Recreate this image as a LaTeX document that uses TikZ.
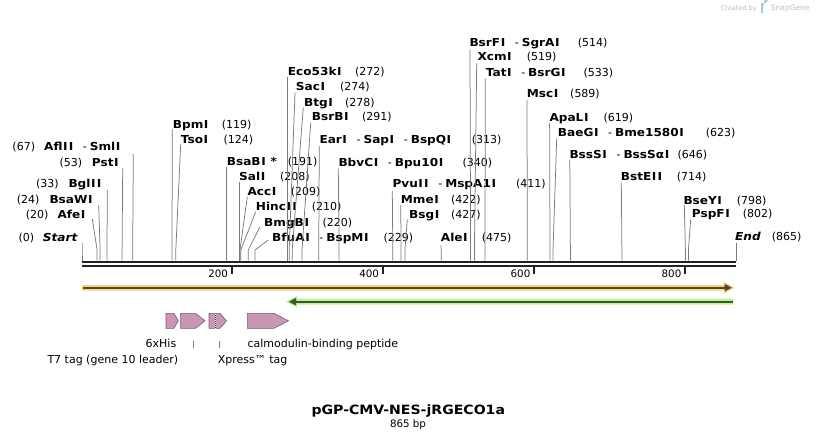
\documentclass[tikz,border=0pt]{standalone}
\usepackage{fontspec}
\setmainfont{DejaVu Sans}
\newfontfamily\widefam[FakeStretch=1.1]{DejaVu Sans}
\newcommand\enzb{\widefam\bfseries\fontsize{11}{13}\selectfont}
\newcommand\enzbi{\widefam\bfseries\itshape\fontsize{11}{13}\selectfont}
\newcommand\enzr{\normalfont\fontsize{11}{13}\selectfont}
\newcommand\dsep{\hspace{9pt}{\enzr-}\hspace{3pt}}
\newcommand\Ik{\kern0.6pt I\kern0.6pt}
\definecolor{cutgray}{HTML}{7A7A7A}
\definecolor{orglow}{HTML}{FBD07F}
\definecolor{ordark}{HTML}{4F4735}
\definecolor{grglow}{HTML}{BEF294}
\definecolor{grdark}{HTML}{3E5634}
\definecolor{featfill}{HTML}{C996B3}
\definecolor{featdraw}{HTML}{7D5A6E}
\definecolor{wmgray}{HTML}{BDBDBD}
\definecolor{wmblue}{HTML}{A9CBEA}
\definecolor{bbone}{HTML}{222222}
\tikzset{
  enz/.style={anchor=base west, inner sep=0pt, font=\enzb},
  num/.style={anchor=base west, inner sep=0pt, font=\enzr},
  cut/.style={draw=cutgray, line width=0.75pt},
  feat/.style={fill=featfill, draw=featdraw, line width=0.6pt, line join=miter},
  flabel/.style={inner sep=0pt, font=\fontsize{11}{13}\selectfont},
  ticklab/.style={anchor=base east, inner sep=0pt, font=\fontsize{10.3}{12}\selectfont},
}
\newcommand\enz[9]{%
  \node[enz] (n#1) at (#2,#4+4) {#5};
  \node[num] (m#1) at (#3,#4+4) {(#6)};
  \coordinate (t#1) at (#7,#8);
  \coordinate (s#1) at (#9,260.5);
  \draw[cut] (t#1) -- (#9,250) -- (s#1);
}
\begin{document}
\begin{tikzpicture}[x=1pt,y=-1pt]
\useasboundingbox (0,0) rectangle (818,440);

% watermark
\node[anchor=base west, inner sep=0pt, text=wmgray, font=\fontsize{6.5}{8}\selectfont] (wm1) at (720.7,10) {Created by};
\fill[wmblue] (760.5,3) rectangle (763,13);
\fill[wmblue] (763,3) -- (765,3) arc[start angle=90, end angle=-90, radius=2.6] -- (763,8.2) -- cycle;
\node[anchor=base west, inner sep=0pt, text=wmgray, font=\fontsize{7.5}{9}\selectfont] (wm2) at (770.7,10.5) {SnapGene};

% enzymes, left side
\enz{a0}{42.7}{18.3}{237.3}{\enzbi Start}{0}{82}{242.7}{82}
\enz{a20}{57.3}{25.7}{214}{Afe\Ik}{20}{92.3}{219}{97.1}
\enz{a24}{49.3}{16.7}{199}{BsaW\Ik}{24}{98.7}{205}{100.1}
\enz{a33}{68.3}{36}{183.3}{Bgl\Ik\Ik}{33}{107.3}{190}{107}
\enz{a53}{91.7}{59.3}{162.3}{Pst\Ik}{53}{122.7}{168}{122.1}
\enz{a67}{44}{12.3}{146.7}{Afl\Ik\Ik\dsep Sml\Ik}{67}{133.3}{154}{132.7}
% enzymes, right side
\enz{b119}{172.7}{221.7}{124}{Bpm\Ik}{119}{172.3}{129}{172}
\enz{b124}{180.7}{223.3}{139.3}{Tso\Ik}{124}{180.7}{144.3}{175.8}
\enz{b191}{226.7}{287.7}{161.7}{BsaB\Ik{} *}{191}{226.6}{167}{226.4}
\enz{b208}{239}{280}{176.7}{Sal\Ik}{208}{239.3}{182.3}{239.3}
\enz{b209}{247.3}{290.7}{191.7}{Acc\Ik}{209}{247.3}{196.7}{240}
\enz{b210}{255.7}{311.7}{206.7}{Hinc\Ik\Ik}{210}{255.7}{211.7}{240.8}
\enz{b220}{264}{322.3}{222}{BmgB\Ik}{220}{260}{226.7}{248.3}
\enz{b229}{272}{383.3}{237}{BfuA\Ik\dsep BspM\Ik}{229}{268.3}{240}{255.1}
\enz{b272}{287.7}{355}{71.7}{Eco53k\Ik}{272}{287.7}{76.7}{287.7}
\enz{b274}{295.7}{340}{86.7}{Sac\Ik}{274}{295}{92.7}{289.2}
\enz{b278}{304}{345}{102.3}{Btg\Ik}{278}{303.3}{107.3}{292.2}
\enz{b291}{311.7}{362}{116.7}{BsrB\Ik}{291}{310.7}{122.7}{302}
\enz{b313}{319.3}{471.7}{139}{Ear\Ik\dsep Sap\Ik\dsep BspQ\Ik}{313}{319.3}{146}{318.7}
\enz{b340}{338.3}{462.3}{162.3}{BbvC\Ik\dsep Bpu10\Ik}{340}{338.3}{168.3}{339.1}
\enz{b411}{392.3}{516}{183.3}{Pvu\Ik\Ik\dsep MspA1\Ik}{411}{392.3}{191}{392.8}
\enz{b422}{400.7}{451}{199.3}{Mme\Ik}{422}{400.7}{205}{401.1}
\enz{b427}{409}{451}{214}{Bsg\Ik}{427}{407.3}{219.3}{404.9}
\enz{b475}{440.7}{481.7}{237.3}{Ale\Ik}{475}{440.9}{245}{441.2}
\enz{b514}{469.3}{577.7}{42.3}{BsrF\Ik\dsep SgrA\Ik}{514}{470}{49.3}{470.6}
\enz{b519}{477.3}{526.7}{56.7}{Xcm\Ik}{519}{476.7}{63.3}{474.4}
\enz{b533}{485.7}{583.3}{72.3}{Tat\Ik\dsep BsrG\Ik}{533}{485.3}{78.3}{485}
\enz{b589}{526.7}{570}{93.3}{Msc\Ik}{589}{527}{100}{527.3}
\enz{b619}{549.3}{603.3}{117.3}{ApaL\Ik}{619}{549.6}{123.3}{550}
\enz{b623}{557.7}{705.7}{132}{BaeG\Ik\dsep Bme1580\Ik}{623}{556.7}{138.3}{553}
\enz{b646}{569.3}{677.3}{154.3}{BssS\Ik\dsep BssSα\Ik}{646}{569.8}{160}{570.4}
\enz{b714}{620.7}{676.7}{176.7}{BstE\Ik\Ik}{714}{621.3}{182.7}{621.9}
\enz{b798}{683.3}{736.7}{200}{BseY\Ik}{798}{684.3}{205}{685.4}
\enz{b802}{691.7}{742.7}{213.3}{PspF\Ik}{802}{690.7}{219.3}{688.4}
\enz{b865}{735}{771.7}{236.7}{\enzbi End}{865}{736}{242.7}{736}

% backbone
\draw[bbone, line width=2.6pt] (82,262) -- (736,262);
\draw[bbone, line width=2.4pt] (82,266.1) -- (736,266.1);
\foreach \tx/\tl in {231.7/200, 382.7/400, 534/600, 685/800}{
  \draw[bbone, line width=1.6pt] (\tx,266) -- (\tx,274.3);
  \node[ticklab] at (\tx-3.5,277.3) {\tl};
}

% forward feature (orange)
\fill[orglow] (82,284.8) -- (724,284.8) -- (724,281.8) -- (734.5,287.7) -- (724,293.6) -- (724,290.6) -- (82,290.6) -- cycle;
\draw[ordark, line width=2pt] (82.5,287.7) -- (726,287.7);
\fill[ordark] (724.5,283.9) -- (731.8,287.7) -- (724.5,291.5) -- cycle;

% reverse feature (green)
\fill[grglow] (733,298.7) -- (297,298.7) -- (297,295.8) -- (286,301.7) -- (297,307.6) -- (297,304.7) -- (733,304.7) -- cycle;
\draw[grdark, line width=2pt] (732.5,301.7) -- (294,301.7);
\fill[grdark] (296,297.9) -- (288.7,301.7) -- (296,305.5) -- cycle;

% small features
\draw[feat] (166,313.3) -- (174,313.3) -- (178.3,320.8) -- (174,328.3) -- (166,328.3) -- cycle;
\draw[feat] (180.7,313.3) -- (195.5,313.3) -- (205,320.8) -- (195.5,328.3) -- (180.7,328.3) -- cycle;
\draw[feat] (209,313.3) -- (220,313.3) -- (226.5,320.8) -- (220,328.3) -- (209,328.3) -- cycle;
\draw[white, line width=0.8pt, dash pattern=on 1pt off 1pt] (215.7,313.6) -- (215.7,328);
\draw[black!80, line width=0.6pt, dash pattern=on 1pt off 1pt] (215.7,314.6) -- (215.7,328);
\draw[feat] (247.3,313.3) -- (274,313.3) -- (288.5,320.8) -- (274,328.3) -- (247.3,328.3) -- cycle;

% feature labels
\node[flabel, anchor=base] (l1) at (161,347.3) {6xHis};
\node[flabel, anchor=base west] (l2) at (247.3,347.3) {calmodulin-binding peptide};
\node[flabel, anchor=base west] (l3) at (47.3,363.3) {T7 tag (gene 10 leader)};
\node[flabel, anchor=base west] (l4) at (217.7,363.3) {Xpress™ tag};
\draw[cutgray, line width=0.7pt] (193.3,340.7) -- (193.3,348.3);
\draw[cutgray, line width=0.7pt] (219,340.7) -- (219,348.3);

% title
\node[anchor=base, inner sep=0pt, font=\widefam\bfseries\fontsize{12.8}{15}\selectfont] (title) at (408.3,414.2) {pGP-CMV-NES-jRGECO1a};
\node[anchor=base, inner sep=0pt, font=\fontsize{10.3}{12}\selectfont] (len) at (408,427.7) {865 bp};
\end{tikzpicture}
\end{document}
